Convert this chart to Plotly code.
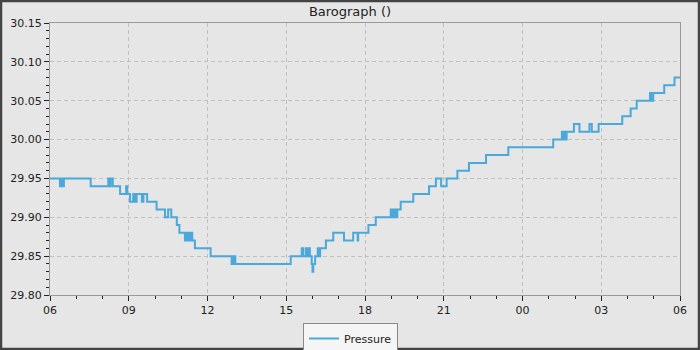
import pandas as pd
import plotly.graph_objects as go

# Change points: hours after 06:00 and barometric pressure (inHg)
hours = [0.00, 0.38, 0.41, 0.44, 0.47, 0.50, 0.53, 1.55, 2.22, 2.27, 2.31, 2.39,
         2.67, 2.90, 2.94, 3.05, 3.17, 3.23, 3.30, 3.50, 3.56, 3.70, 4.06, 4.38, 4.50, 4.62,
         4.83, 4.93, 5.14, 5.20, 5.24, 5.30, 5.35, 5.40, 5.42, 5.52, 6.12, 6.92, 6.96, 7.00,
         7.03, 7.06, 9.17, 9.59, 9.64, 9.74, 9.80, 9.85, 9.90, 9.97, 10.00, 10.03, 10.10,
         10.20, 10.25, 10.29, 10.51, 10.79, 11.20, 11.55, 11.72, 11.74, 12.13, 12.41, 12.98,
         13.05, 13.12, 13.18, 13.23, 13.36, 13.84, 14.44, 14.70, 14.90, 15.11, 15.52, 15.96,
         16.61, 17.46, 19.17, 19.50, 19.56, 19.62, 19.66, 19.68, 19.96, 20.17, 20.55, 20.64,
         20.90, 21.80, 22.12, 22.35, 22.86, 22.90, 22.98, 23.40, 23.79, 24.00]
pressure = [29.95, 29.94, 29.95, 29.94, 29.95, 29.94, 29.95, 29.94, 29.95, 29.94, 29.95, 29.94,
            29.93, 29.94, 29.93, 29.92, 29.93, 29.92, 29.93, 29.92, 29.93, 29.92, 29.91, 29.90, 29.91, 29.90,
            29.89, 29.88, 29.87, 29.88, 29.87, 29.88, 29.87, 29.88, 29.87, 29.86, 29.85, 29.84, 29.85, 29.84,
            29.85, 29.84, 29.85, 29.86, 29.85, 29.86, 29.85, 29.86, 29.85, 29.84, 29.83, 29.84, 29.85,
            29.86, 29.85, 29.86, 29.87, 29.88, 29.87, 29.88, 29.87, 29.88, 29.89, 29.90, 29.91,
            29.90, 29.91, 29.90, 29.91, 29.92, 29.93, 29.94, 29.95, 29.94, 29.95, 29.96, 29.97,
            29.98, 29.99, 30.00, 30.01, 30.00, 30.01, 30.00, 30.01, 30.02, 30.01, 30.02, 30.01,
            30.02, 30.03, 30.04, 30.05, 30.06, 30.05, 30.06, 30.07, 30.08, 30.08]

start = pd.Timestamp("2024-01-01 06:00")
times = [start + pd.Timedelta(hours=h) for h in hours]

FONT = "DejaVu Sans"
fig = go.Figure()
fig.add_trace(go.Scatter(
    x=times, y=pressure, mode="lines", name="Pressure",
    line=dict(color="#4aa8da", width=2, shape="hv"),
))

grid = dict(gridcolor="#c0c0c0", griddash="4px,3px", gridwidth=1,
            showline=True, linecolor="#999999", linewidth=1, mirror=True,
            ticks="outside", ticklen=5, tickcolor="#222222", zeroline=False,
            tickfont=dict(family=FONT, size=11, color="#222222"))

fig.update_layout(
    width=700, height=350,
    margin=dict(l=50, r=20, t=23, b=55, autoexpand=False),
    paper_bgcolor="#e6e6e6", plot_bgcolor="#e6e6e6",
    font=dict(family=FONT, size=11, color="#222222"),
    title=dict(text="Barograph ()", x=0.5, xanchor="center", y=1 - 11 / 350,
               yanchor="middle", font=dict(family=FONT, size=13, color="#222222")),
    xaxis=dict(range=[start, start + pd.Timedelta(hours=24)], dtick=3 * 3600000,
               tick0=start, tickformat="%H",
               minor=dict(dtick=3600000, ticks="outside", ticklen=3,
                          tickcolor="#222222", showgrid=False),
               **grid),
    yaxis=dict(range=[29.80, 30.15], dtick=0.05, tick0=29.80, tickformat=".2f",
               minor=dict(dtick=0.01, ticks="outside", ticklen=3,
                          tickcolor="#222222", showgrid=False),
               **grid),
    showlegend=True,
    legend=dict(orientation="h", x=(350.5 - 50) / 630, xanchor="center",
                y=(295 - 338.5) / 272, yanchor="middle", bgcolor="#f5f5f5",
                bordercolor="#888888", borderwidth=1,
                font=dict(family=FONT, size=11, color="#222222"),
                itemwidth=30, tracegroupgap=0),
    shapes=[dict(type="rect", xref="paper", yref="paper",
                 x0=(1 - 50) / 630, x1=(699 - 50) / 630,
                 y0=(295 - 349) / 272, y1=(295 - 1) / 272,
                 line=dict(color="#444444", width=2.5))],
)

fig.write_html("out.html")
